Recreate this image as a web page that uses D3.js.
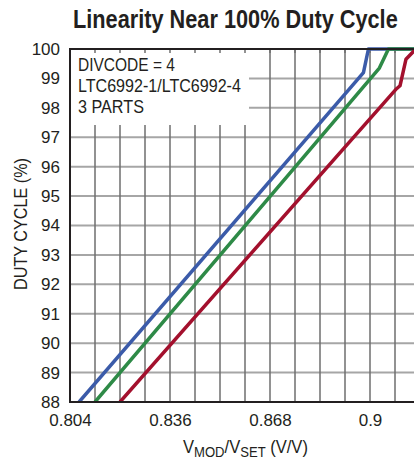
<!DOCTYPE html>
<html><head><meta charset="utf-8">
<script src="https://cdn.jsdelivr.net/npm/d3@7/dist/d3.min.js"></script>
<style>
body{margin:0;background:#fff;}
svg{display:block;}
text{font-family:"Liberation Sans",Arial,sans-serif;fill:#231f20;}
</style></head>
<body>
<svg id="c" width="414" height="461"></svg>
<script>
// ---- data ----
const yTicks = [88,89,90,91,92,93,94,95,96,97,98,99,100];
const xTickLabels = [0.804, 0.836, 0.868, 0.9];
const legendLines = ["DIVCODE = 4", "LTC6992-1/LTC6992-4", "3 PARTS"];
const blueX  = [0.8069, 0.8955, 0.8979, 0.8995, 0.916];
const blueY  = [88, 98.9, 99.2, 100, 100];
const greenX = [0.8120, 0.9030, 0.9059, 0.916];
const greenY = [88, 99.35, 100, 100];
const redX   = [0.8200, 0.9085, 0.9096, 0.9115, 0.9142, 0.916];
const redY   = [88, 98.65, 98.75, 99.65, 99.95, 100];
const series = [
  {name:"blue",  xs:blueX,  ys:blueY,  color:"#3b5ba9"},
  {name:"green", xs:greenX, ys:greenY, color:"#2e8a47"},
  {name:"red",   xs:redX,   ys:redY,   color:"#a3102d"}
];

// ---- layout ----
const svg = d3.select("#c");
const L = 70, T = 49, B = 402, R = 420;
const x = d3.scaleLinear().domain([0.804, 0.916]).range([L, R]);
const y = d3.scaleLinear().domain([88, 100]).range([B, T]);
const xGrid = d3.range(0.804 + 0.008, 0.9161, 0.008);

// scale a text horizontally so its width equals w, keeping its left edge at x0
function fitWidth(sel, x0, w){
  const bw = sel.node().getComputedTextLength();
  const k = w / bw;
  sel.attr("x", 0).attr("transform", `translate(${x0},0) scale(${k},1)`);
}

svg.append("defs").append("clipPath").attr("id","clip")
  .append("rect").attr("x",L).attr("y",T-3).attr("width",R-L).attr("height",B-T+3);

// title
const title = svg.append("text").attr("y",28)
  .style("font-size","25px").style("font-weight","bold")
  .text("Linearity Near 100% Duty Cycle");
fitWidth(title, 73, 325);

// horizontal grid
svg.append("g").selectAll("line").data(yTicks.filter(d=>d>88 && d<100)).join("line")
  .attr("x1",L).attr("x2",R).attr("y1",d=>y(d)).attr("y2",d=>y(d))
  .attr("stroke","#a6a6a6").attr("stroke-width",2);
// vertical grid
svg.append("g").selectAll("line").data(xGrid).join("line")
  .attr("x1",d=>x(d)).attr("x2",d=>x(d)).attr("y1",T).attr("y2",B)
  .attr("stroke","#6e6e6e").attr("stroke-width",1.5);

// legend box (covers grid)
svg.append("rect").attr("x",L+1).attr("y",T+1).attr("width",178).attr("height",75).attr("fill","#fff");
// top inner ticks
svg.append("g").selectAll("line").data(xGrid).join("line")
  .attr("x1",d=>x(d)).attr("x2",d=>x(d)).attr("y1",T).attr("y2",T+4)
  .attr("stroke","#6e6e6e").attr("stroke-width",1.5);

const legW = [97, 163, 66];
const legY = [71, 92.5, 113];
svg.append("g").selectAll("text").data(legendLines).join("text")
  .attr("y",(d,i)=>legY[i])
  .style("font-size","17.5px").text(d=>d)
  .each(function(d,i){ fitWidth(d3.select(this), 78, legW[i]); });

// series
const line = d3.line().x(d=>x(d[0])).y(d=>y(d[1]));
svg.append("g").attr("clip-path","url(#clip)").selectAll("path").data(series).join("path")
  .attr("d",s=>line(s.xs.map((v,i)=>[v,s.ys[i]])))
  .attr("fill","none").attr("stroke",s=>s.color).attr("stroke-width",3.5)
  .attr("stroke-linejoin","round");

// axes frame
svg.append("line").attr("x1",L).attr("x2",L).attr("y1",T-1).attr("y2",B+1).attr("stroke","#231f20").attr("stroke-width",2);
svg.append("line").attr("x1",L-1).attr("x2",R).attr("y1",B).attr("y2",B).attr("stroke","#231f20").attr("stroke-width",2);
svg.append("line").attr("x1",L-1).attr("x2",R).attr("y1",T).attr("y2",T).attr("stroke","#231f20").attr("stroke-width",2);

// y axis labels
const ya = svg.append("g").attr("transform",`translate(${L},0)`)
  .call(d3.axisLeft(y).tickValues(yTicks).tickSize(0).tickPadding(10).tickFormat(d3.format("d")));
ya.select(".domain").remove();
ya.selectAll("text").style("font-size","17px").style("font-family","'Liberation Sans',Arial,sans-serif").attr("fill","#231f20");

// x axis labels
const xa = svg.append("g").attr("transform",`translate(0,${B})`)
  .call(d3.axisBottom(x).tickValues(xTickLabels).tickSize(0).tickPadding(12).tickFormat(d=>String(d)));
xa.select(".domain").remove();
xa.selectAll("text").style("font-size","17px").style("font-family","'Liberation Sans',Arial,sans-serif").attr("fill","#231f20");

// y title
svg.append("text").attr("transform","translate(27,224) rotate(-90)")
  .attr("text-anchor","middle").attr("textLength",132).attr("lengthAdjust","spacingAndGlyphs")
  .style("font-size","17.5px").text("DUTY CYCLE (%)");

// x title
const xt = svg.append("text").attr("y",453).style("font-size","19px");
xt.append("tspan").text("V");
xt.append("tspan").attr("dy",4).style("font-size","15px").text("MOD");
xt.append("tspan").attr("dy",-4).text("/V");
xt.append("tspan").attr("dy",4).style("font-size","15px").text("SET");
xt.append("tspan").attr("dy",-4).text(" (V/V)");
fitWidth(xt, 183, 125);
</script>
</body></html>
